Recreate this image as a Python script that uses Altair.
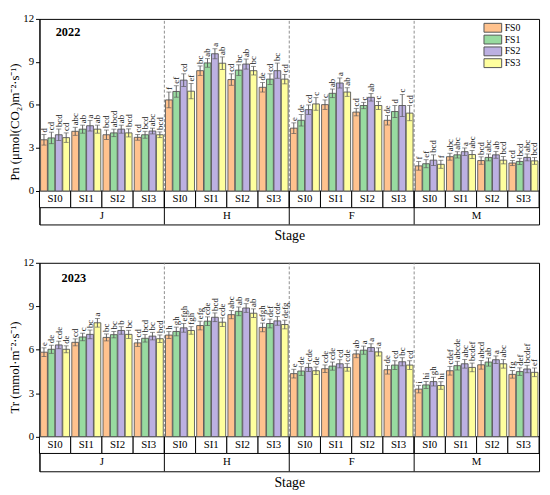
import altair as alt
import pandas as pd

stages = ["J", "H", "F", "M"]
levels = ["SI0", "SI1", "SI2", "SI3"]
treatments = ["FS0", "FS1", "FS2", "FS3"]
colors = ["#FFC28E", "#98DBA0", "#BCB0E2", "#FFFF9E"]

# ---- 2022 Pn (order: SI0..SI3, each FS0..FS3)
pn_J = [3.57, 3.70, 3.92, 3.72, 4.16, 4.31, 4.55, 4.31, 3.92, 4.05, 4.31, 4.05, 3.74, 3.92, 4.18, 3.92]
pn_H = [6.35, 6.94, 7.73, 6.96, 8.39, 8.93, 9.57, 8.91, 7.77, 8.43, 8.85, 8.39, 7.23, 7.80, 8.39, 7.80]
pn_F = [4.38, 4.93, 5.67, 6.07, 6.02, 6.81, 7.53, 6.90, 5.50, 5.96, 6.53, 5.96, 4.93, 5.54, 5.96, 5.43]
pn_M = [1.75, 1.90, 2.15, 1.86, 2.39, 2.52, 2.74, 2.54, 2.12, 2.34, 2.52, 2.15, 1.95, 2.06, 2.34, 2.10]
pn_err_J = [0.37, 0.40, 0.40, 0.33, 0.28, 0.28, 0.37, 0.28, 0.33, 0.26, 0.28, 0.28, 0.20, 0.24, 0.20, 0.20]
pn_err_H = [0.55, 0.40, 0.44, 0.53, 0.33, 0.30, 0.35, 0.44, 0.40, 0.37, 0.35, 0.30, 0.33, 0.37, 0.53, 0.33]
pn_err_F = [0.37, 0.40, 0.33, 0.44, 0.33, 0.30, 0.35, 0.30, 0.26, 0.22, 0.26, 0.28, 0.33, 0.42, 0.77, 0.53]
pn_err_M = [0.30, 0.28, 0.37, 0.28, 0.24, 0.22, 0.26, 0.28, 0.26, 0.24, 0.24, 0.26, 0.18, 0.22, 0.24, 0.24]
pn_let_J = ["d", "cd", "bcd", "cd", "abc", "ab", "a", "ab", "bcd", "abcd", "ab", "bcd", "cd", "bcd", "abc", "bcd"]
pn_let_H = ["f", "ef", "cd", "ef", "bc", "ab", "a", "ab", "cd", "bc", "ab", "bc", "de", "cd", "bc", "cd"]
pn_let_F = ["e", "de", "cd", "c", "c", "ab", "a", "ab", "cd", "c", "ab", "c", "de", "d", "c", "cd"]
pn_let_M = ["f", "ef", "bcd", "f", "abc", "abc", "a", "abc", "bcd", "abc", "ab", "bcd", "cd", "bcd", "abc", "bcd"]

# ---- 2023 Tr
tr_J = [5.83, 6.03, 6.33, 6.03, 6.51, 6.88, 7.06, 7.86, 6.85, 7.04, 7.33, 7.06, 6.47, 6.79, 6.94, 6.76]
tr_H = [7.01, 7.26, 7.51, 7.33, 7.67, 7.97, 8.24, 7.90, 8.42, 8.65, 8.88, 8.52, 7.54, 7.81, 7.99, 7.74]
tr_F = [4.35, 4.53, 4.78, 4.55, 4.69, 4.87, 5.03, 4.78, 5.71, 5.97, 6.15, 5.85, 4.62, 4.94, 5.17, 4.94]
tr_M = [3.28, 3.57, 3.80, 3.53, 4.55, 4.90, 5.03, 4.78, 4.96, 5.15, 5.31, 5.03, 4.30, 4.49, 4.67, 4.44]
tr_err_J = [0.30, 0.28, 0.26, 0.24, 0.24, 0.26, 0.30, 0.30, 0.24, 0.22, 0.26, 0.28, 0.24, 0.26, 0.26, 0.26]
tr_err_H = [0.24, 0.30, 0.30, 0.26, 0.30, 0.30, 0.30, 0.30, 0.28, 0.30, 0.30, 0.30, 0.30, 0.30, 0.30, 0.30]
tr_err_F = [0.30, 0.30, 0.28, 0.26, 0.26, 0.28, 0.28, 0.26, 0.26, 0.28, 0.26, 0.28, 0.30, 0.30, 0.28, 0.30]
tr_err_M = [0.26, 0.24, 0.30, 0.26, 0.30, 0.30, 0.30, 0.30, 0.30, 0.28, 0.26, 0.30, 0.26, 0.26, 0.26, 0.30]
tr_let_J = ["e", "de", "cde", "de", "cd", "c", "bc", "a", "bc", "bc", "b", "bc", "cd", "bcd", "bc", "bcd"]
tr_let_H = ["h", "gh", "efgh", "fgh", "efg", "cde", "bcd", "cde", "abc", "ab", "a", "ab", "efgh", "def", "cde", "defg"]
tr_let_F = ["e", "de", "cde", "de", "cde", "cde", "cd", "cde", "ab", "a", "a", "a", "de", "cd", "bc", "cd"]
tr_let_M = ["i", "hi", "gh", "hi", "cdef", "abcde", "abc", "bcdef", "abcd", "ab", "a", "abc", "fg", "def", "bcdef", "ef"]

keys = [f"{s}|{l}" for s in stages for l in levels]
SERIF = "Liberation Serif"


def make_df(means, errs, lets):
    rows = []
    for s in stages:
        for i, lv in enumerate(levels):
            for j, t in enumerate(treatments):
                k = i * 4 + j
                m = means[s][k]
                e = errs[s][k]
                rows.append(dict(stage=s, level=lv, key=f"{s}|{lv}", fs=t,
                                 mean=m, lo=m - e, hi=m + e, letter=lets[s][k]))
    return pd.DataFrame(rows)


df22 = make_df({"J": pn_J, "H": pn_H, "F": pn_F, "M": pn_M},
               {"J": pn_err_J, "H": pn_err_H, "F": pn_err_F, "M": pn_err_M},
               {"J": pn_let_J, "H": pn_let_H, "F": pn_let_F, "M": pn_let_M})
df23 = make_df({"J": tr_J, "H": tr_H, "F": tr_F, "M": tr_M},
               {"J": tr_err_J, "H": tr_err_H, "F": tr_err_F, "M": tr_err_M},
               {"J": tr_let_J, "H": tr_let_H, "F": tr_let_F, "M": tr_let_M})

si_df = pd.DataFrame({"key": keys, "level": [k.split("|")[1] for k in keys]})
bd_df = pd.DataFrame({"key": [f"{s}|SI0" for s in stages[1:]]})
st_df = pd.DataFrame({"key": [f"{s}|SI1" for s in stages], "stage": stages})


def xenc(band=None):
    kw = {}
    if band is not None:
        kw["bandPosition"] = band
    return alt.X("key:N", sort=keys,
                 scale=alt.Scale(domain=keys, paddingInner=0, paddingOuter=0),
                 axis=alt.Axis(title="Stage", labels=False, ticks=False, domain=False, grid=False,
                               titleFont=SERIF, titleFontSize=14, titleFontWeight="normal",
                               titleColor="black", titlePadding=4),
                 **kw)


def panel(df, ytitle, year, height, ymin, si_low, year_xy, legend_xy):
    yscale = alt.Scale(domain=[ymin, 12], nice=False, zero=False)
    yaxis = alt.Axis(values=[0, 3, 6, 9, 12], title=ytitle, grid=False, tickSize=4,
                     tickColor="black", domainColor="black", labelFont=SERIF, labelFontSize=11,
                     labelColor="black", labelPadding=2, titleFont=SERIF, titleFontSize=13,
                     titleFontWeight="normal", titleColor="black", titlePadding=1)
    xoff = alt.XOffset("fs:N", sort=treatments,
                       scale=alt.Scale(domain=treatments, paddingInner=0.08, paddingOuter=0.15))

    def Y(field):
        return alt.Y(field, scale=yscale, axis=yaxis, title=ytitle)

    base = alt.Chart(df)
    rects = alt.Chart(si_df).mark_rect(fill="white", stroke="black", strokeWidth=1).encode(
        x=xenc(), y=alt.datum(0), y2=alt.datum(si_low))
    si_text = alt.Chart(si_df).mark_text(font=SERIF, fontSize=11, baseline="middle", color="black").encode(
        x=xenc(), y=alt.datum(si_low / 2), text="level:N")
    st_text = alt.Chart(st_df).mark_text(font=SERIF, fontSize=11, baseline="middle", color="black").encode(
        x=xenc(1), y=alt.datum((si_low + ymin) / 2), text="stage:N")
    dashed = alt.Chart(bd_df).mark_rule(color="#808080", strokeDash=[3, 2], strokeWidth=0.9).encode(
        x=xenc(0), y=alt.datum(0), y2=alt.datum(12))
    solid = alt.Chart(bd_df).mark_rule(color="black", strokeWidth=1).encode(
        x=xenc(0), y=alt.datum(0), y2=alt.datum(ymin))
    bars = base.mark_bar(stroke="#555555", strokeWidth=0.9).encode(
        x=xenc(), xOffset=xoff, y=Y("mean:Q"), y2=alt.datum(0),
        color=alt.Color("fs:N", sort=treatments,
                        scale=alt.Scale(domain=treatments, range=colors),
                        legend=alt.Legend(title=None, orient="none", legendX=legend_xy[0],
                                          legendY=legend_xy[1], symbolType="M-2,-1H2V1H-2Z",
                                          symbolSize=81, symbolStrokeColor="#555555",
                                          symbolStrokeWidth=1, symbolOpacity=1, labelFont=SERIF,
                                          labelFontSize=10, labelColor="black", rowPadding=-3,
                                          padding=0, labelOffset=7)))
    err = base.mark_rule(color="#555555", strokeWidth=0.9).encode(
        x=xenc(), xOffset=xoff, y=Y("lo:Q"), y2="hi:Q")
    cap_hi = base.mark_tick(color="#555555", thickness=0.9, size=5).encode(
        x=xenc(), xOffset=xoff, y=Y("hi:Q"))
    cap_lo = base.mark_tick(color="#555555", thickness=0.9, size=5).encode(
        x=xenc(), xOffset=xoff, y=Y("lo:Q"))
    letters = base.mark_text(angle=270, align="left", baseline="middle", dx=2, font=SERIF,
                             fontSize=9, color="#222222").encode(
        x=xenc(), xOffset=xoff, y=Y("hi:Q"), text="letter:N")
    yr = alt.Chart(pd.DataFrame({"year": [year]})).mark_text(
        font=SERIF, fontSize=12.5, fontWeight="bold", align="center", baseline="middle",
        color="black").encode(x=alt.value(year_xy[0]), y=alt.value(year_xy[1]), text="year:N")
    return alt.layer(rects, si_text, st_text, dashed, solid, bars, err, cap_hi, cap_lo,
                     letters, yr).properties(width=508, height=height)


p1 = panel(df22, "Pn (μmol(CO₂)m⁻²·s⁻¹)", "2022", 209, -2.335, -1.166, (29, 13), (456, 4))
p2 = panel(df23, "Tr (mmol·m⁻²·s⁻¹)", "2023", 212, -2.39, -1.16, (35, 16), (454, 12))

chart = alt.vconcat(p1, p2, spacing=13).properties(
    padding={"left": 0, "top": 0, "right": 2, "bottom": 0}
).configure_view(stroke="black", strokeWidth=1)

chart.save("out.html", embed_options={"renderer": "svg", "actions": False})
